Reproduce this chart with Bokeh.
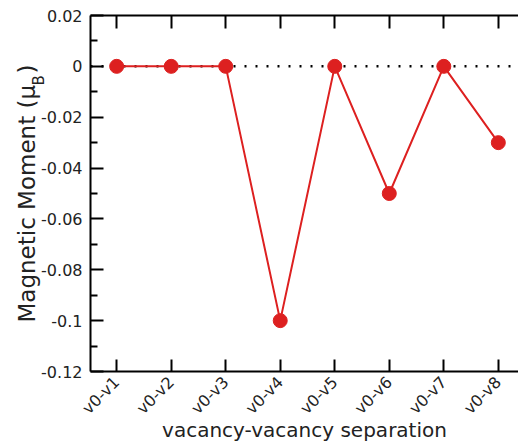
import math
from bokeh.plotting import figure
from bokeh.models import (FixedTicker, Span, Label, LinearAxis, Range1d,
                          CustomJSTickFormatter)
from bokeh.embed import file_html
from bokeh.resources import INLINE

# vacancy pairs and their magnetic moments (mu_B)
pairs = ["v0-v1", "v0-v2", "v0-v3", "v0-v4", "v0-v5", "v0-v6", "v0-v7", "v0-v8"]
moments = [0.0, 0.0, 0.0, -0.1, 0.0, -0.05, 0.0, -0.03]
y_ticks = [-0.12, -0.1, -0.08, -0.06, -0.04, -0.02, 0.0, 0.02]
y_minor = [-0.11, -0.09, -0.07, -0.05, -0.03, -0.01, 0.01]
y_labels = ["-0.12", "-0.1", "-0.08", "-0.06", "-0.04", "-0.02", "0", "0.02"]

xs = list(range(1, len(pairs) + 1))
RED = "#dd2020"
FONT = "DejaVu Sans"

p = figure(width=518, height=444, output_backend="svg", toolbar_location=None,
           x_range=Range1d(0.52, 8.37), y_range=Range1d(-0.12, 0.02),
           x_axis_location=None, y_axis_location=None,
           min_border_left=90, min_border_right=0, min_border_top=15,
           min_border_bottom=73)
p.outline_line_color = None
p.grid.visible = False
p.background_fill_color = "white"

# zero reference
p.add_layout(Span(location=0, dimension="width", line_color="black",
                  line_width=2.5, line_dash="2 9", level="underlay"))

p.line(xs, moments, line_color=RED, line_width=2)
p.scatter(xs, moments, size=14, fill_color=RED, line_color=RED)

# left axis; the title leaves an en space where the subscript B goes
ly = LinearAxis(ticker=FixedTicker(ticks=y_ticks, minor_ticks=y_minor))
ly.major_label_overrides = {t: l for t, l in zip(y_ticks, y_labels)}
ly.axis_line_width = 2
ly.major_tick_in = 13
ly.major_tick_out = 0
ly.minor_tick_in = 7
ly.minor_tick_out = 0
ly.major_tick_line_width = 2
ly.minor_tick_line_width = 2
ly.major_label_text_font = FONT
ly.major_label_text_font_size = "16px"
ly.major_label_text_color = "#222222"
ly.major_label_standoff = 8
ly.axis_label = "Magnetic Moment (\u03bc\u2002)"
ly.axis_label_text_font = FONT
ly.axis_label_text_font_style = "normal"
ly.axis_label_text_font_size = "23px"
ly.axis_label_text_color = "#222222"
ly.axis_label_standoff = -2
p.add_layout(ly, "left")

# bottom axis with rotated category labels
bx = LinearAxis(ticker=FixedTicker(ticks=xs, minor_ticks=[]))
bx.major_label_overrides = {x: l for x, l in zip(xs, pairs)}
bx.major_label_orientation = math.pi / 4
bx.axis_line_width = 2
bx.major_tick_in = 12
bx.major_tick_out = 0
bx.major_tick_line_width = 2
bx.major_label_text_font = FONT
bx.major_label_text_font_size = "16px"
bx.major_label_text_color = "#222222"
bx.major_label_standoff = 8
bx.axis_label = "vacancy-vacancy separation"
bx.axis_label_text_font = FONT
bx.axis_label_text_font_style = "normal"
bx.axis_label_text_font_size = "20px"
bx.axis_label_text_color = "#222222"
bx.axis_label_standoff = -10
p.add_layout(bx, "below")

# top axis: ticks only
tx = LinearAxis(ticker=FixedTicker(ticks=xs, minor_ticks=[]),
                formatter=CustomJSTickFormatter(code="return ''"))
tx.axis_line_width = 2
tx.major_tick_in = 13
tx.major_tick_out = 0
tx.major_tick_line_width = 2
tx.major_label_standoff = 0
tx.major_label_text_font_size = "1px"
p.add_layout(tx, "above")

# subscript B of the y-axis title
p.add_layout(Label(x=-52, y=-70, text="B", text_font_size="15px",
                   x_units="screen", y_units="screen", angle=math.pi / 2,
                   text_font=FONT, text_color="#222222",
                   text_baseline="middle", text_align="left"), "above")

open("out.html", "w").write(file_html(p, INLINE))
